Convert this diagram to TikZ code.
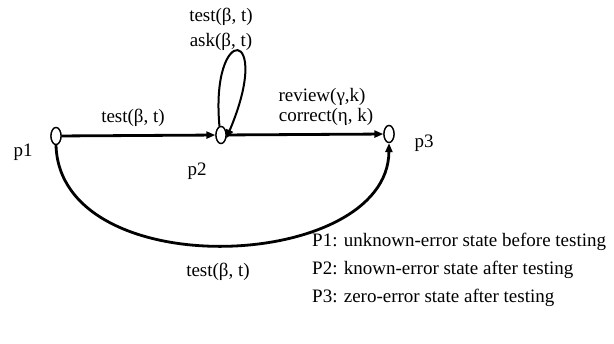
\documentclass[tikz,border=0pt]{standalone}
\usepackage{fontspec}
\setmainfont{Liberation Serif}
\usetikzlibrary{arrows.meta,shapes.geometric}
\begin{document}
\begin{tikzpicture}[x=1pt,y=-1pt,
  place/.style={ellipse,draw=black,line width=1.3pt,fill=white,minimum width=10pt,minimum height=17pt,inner sep=0pt},
  lbl/.style={font=\fontsize{19}{21}\selectfont,inner sep=0pt},
  arc/.style={line width=2.8pt,-{Triangle[length=9pt,width=7pt]}},
  thinarc/.style={line width=2pt,-{Triangle[length=9pt,width=7pt]}}]
\useasboundingbox (0,0) rectangle (614,344);
\node[place] (p1) at (56,136) {};
\node[place] (p2) at (221,135) {};
\node[place] (p3) at (389,134) {};
\draw[arc] (p1) -- (p2);
\draw[arc] (p2) -- (p3);
\draw[thinarc] (p2.100) .. controls (210,22) and (274,26) .. (p2.-35);
\draw[arc] (p1.south) .. controls (60,286) and (388,272) .. (p3.south);
\node[place] at (p1) {};
\node[place] at (p2) {};
\node[place] at (p3) {};
\node[lbl] (l1) at (23,152) {p1};
\node[lbl] (l2) at (197,171) {p2};
\node[lbl] (l3) at (424,143) {p3};
\node[lbl] (t1) at (133,118) {test(β, t)};
\node[lbl] (t2) at (221,17) {test(β, t)};
\node[lbl] (t3) at (221,42) {ask(β, t)};
\node[lbl] (t4) at (322,97) {review(γ,k)};
\node[lbl] (t5) at (326,117) {correct(η, k)};
\node[lbl] (t6) at (218,272) {test(β, t)};
\node[lbl,anchor=west] (g1) at (312,242) {P1: unknown-error state before testing};
\node[lbl,anchor=west] (g2) at (312,270) {P2: known-error state after testing};
\node[lbl,anchor=west] (g3) at (312,298) {P3: zero-error state after testing};
\end{tikzpicture}
\end{document}
